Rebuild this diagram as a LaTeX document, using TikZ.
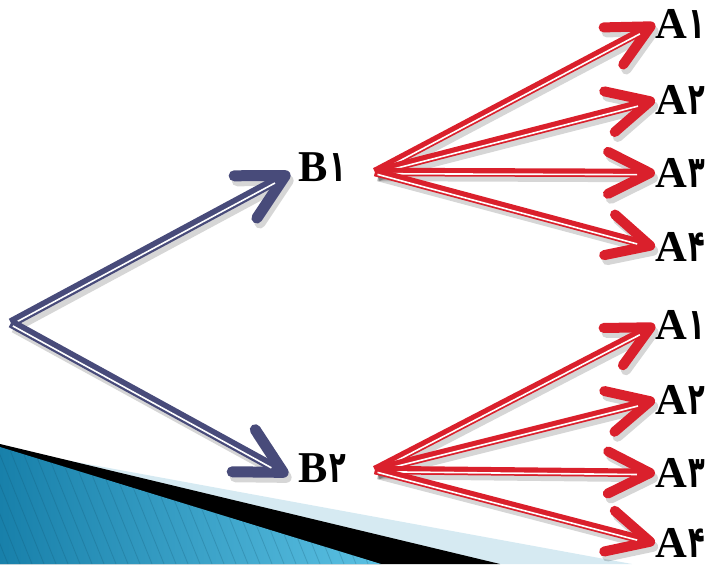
\documentclass[tikz,border=0pt]{standalone}
\usepackage{graphicx}
\usepackage{fontspec}
\setmainfont{Liberation Serif}
\newfontfamily\pdig[Script=Arabic]{DejaVu Sans}
\usetikzlibrary{arrows.meta,calc}
\definecolor{navy}{RGB}{72,75,122}
\definecolor{ared}{RGB}{218,32,44}
\definecolor{tealL}{RGB}{24,128,170}
\definecolor{tealR}{RGB}{92,194,228}
\definecolor{paleblue}{RGB}{214,234,242}
\newcommand\lab[2]{#1\hspace{2pt}\scalebox{0.62}[1]{\pdig\bfseries #2}}
\tikzset{
  lbl/.style={inner sep=0pt, font=\fontsize{44}{44}\selectfont\bfseries, text height=29pt, text depth=0pt, anchor=west},
  shaftB/.style={draw=navy, line width=9.5pt, line cap=butt, -{Straight Barb[length=45pt,width=48pt,line width=11pt,round]}},
  shaftR/.style={draw=ared, line width=8.5pt, line cap=butt, -{Straight Barb[length=42pt,width=42pt,line width=10pt,round]}},
  innerline/.style={draw=white, line width=1.6pt, shorten >=18pt, shorten <=3pt},
}
\newcommand\shadarrow[3]{%
  \begin{scope}[transparency group, opacity=.16, transform canvas={shift={(3pt,-5pt)}}]
    \draw[#1, draw=black] (#2) -- (#3);
  \end{scope}}
\newcommand\mainarrow[3]{%
  \draw[#1] (#2) -- (#3);
  \draw[innerline] ($(#2)!1.7pt!-90:(#3)$) -- ($(#3)!1.7pt!90:(#2)$);}
\begin{document}
\begin{tikzpicture}[x=1pt,y=-1pt]
\useasboundingbox (0,0) rectangle (711,564);
% decorative corner
\fill[paleblue] (0,448) -- (632,564) -- (0,564) -- cycle;
\fill[black] (0,444) -- (500,564) -- (0,564) -- cycle;
\begin{scope}
  \clip (0,447) -- (381,564) -- (0,564) -- cycle;
  \shade[left color=tealL, right color=tealR] (0,440) rectangle (390,564);
  \foreach \x in {-90,-78,...,400}
    \draw[tealL!60!black, opacity=.22, line width=.8pt] (\x,440) -- ++(50,124);
\end{scope}
% nodes
\coordinate (root) at (11,323);
\node[lbl] (b1) at (298,167) {\lab{B}{۱}};
\node[lbl] (b2) at (298,468) {\lab{B}{۲}};
\coordinate (b1o) at (375,172);
\coordinate (b2o) at (375,470);
\node[lbl] (a11) at (655,24) {\lab{A}{۱}};
\node[lbl] (a12) at (655,100) {\lab{A}{۲}};
\node[lbl] (a13) at (655,173) {\lab{A}{۳}};
\node[lbl] (a14) at (655,247) {\lab{A}{۴}};
\node[lbl] (a21) at (655,325) {\lab{A}{۱}};
\node[lbl] (a22) at (655,400) {\lab{A}{۲}};
\node[lbl] (a23) at (655,473) {\lab{A}{۳}};
\node[lbl] (a24) at (655,543) {\lab{A}{۴}};
\coordinate (t1) at ([shift={(-8,6)}]b1.west);
\coordinate (t2) at ([shift={(-10,7)}]b2.west);
% shadows
\shadarrow{shaftB}{root}{t1}
\shadarrow{shaftB}{root}{t2}
\foreach \a in {a11,a12,a13,a14} {\shadarrow{shaftR}{b1o}{\a.west}}
\foreach \a in {a21,a22,a23,a24} {\shadarrow{shaftR}{b2o}{\a.west}}
% arrows
\mainarrow{shaftB}{root}{t1}
\mainarrow{shaftB}{root}{t2}
\foreach \a in {a11,a12,a13,a14} {\mainarrow{shaftR}{b1o}{\a.west}}
\foreach \a in {a21,a22,a23,a24} {\mainarrow{shaftR}{b2o}{\a.west}}
\end{tikzpicture}
\end{document}
